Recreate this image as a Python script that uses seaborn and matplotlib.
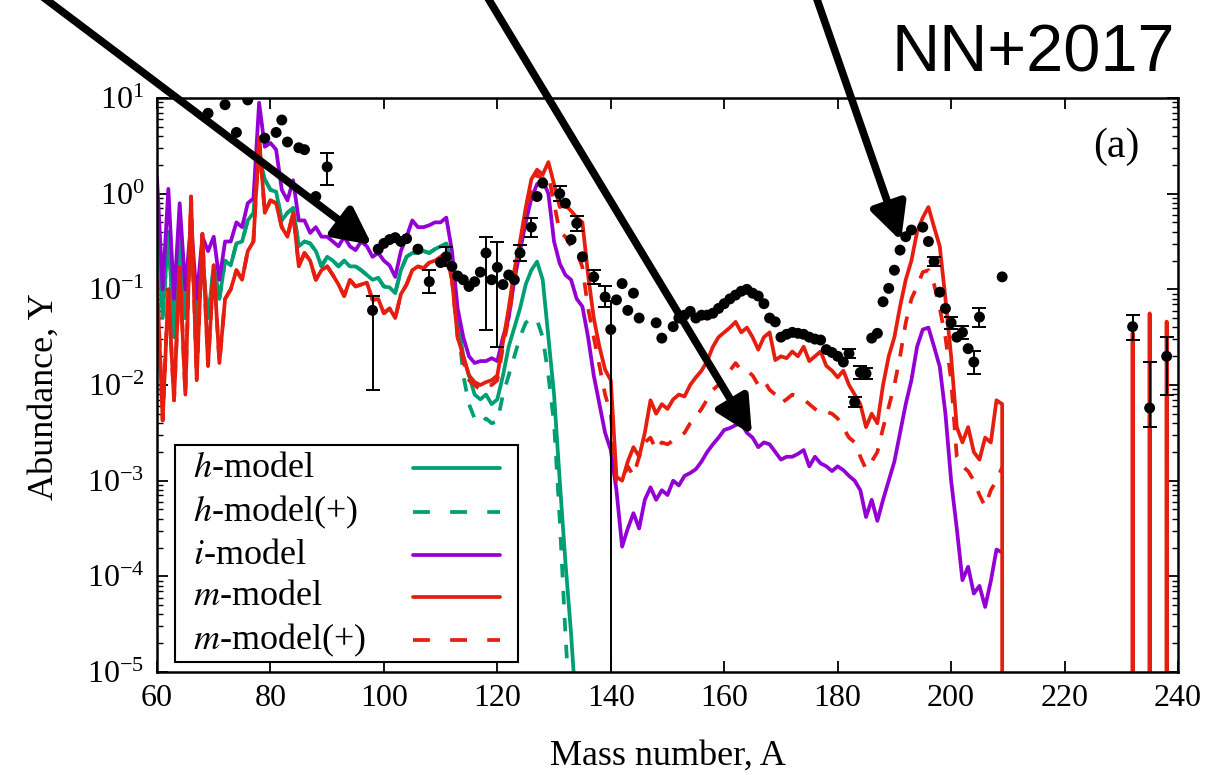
import numpy as np
import pandas as pd
import matplotlib
matplotlib.use("Agg")
import matplotlib.pyplot as plt
import seaborn as sns
from matplotlib.patches import Rectangle, FancyArrowPatch
from matplotlib.lines import Line2D
from matplotlib.ticker import FixedLocator, NullFormatter, LogFormatterSciNotation

# ---------------- data (log10 of abundance Y) ----------------
h_A = np.arange(60, 135)
h_log = [
    -0.2, -1.3, -0.4, -1.5, -0.4, -1.3, -0.5, -1.4, -0.7, -1.3,
    -0.75, -1.1, -0.7, -0.75, -0.52, -0.5, -0.28, -0.2, 0.4, 0.15,
    0.04, 0.02, -0.28, -0.2, -0.15, -0.55, -0.5, -0.52, -0.6, -0.76,
    -0.66, -0.7, -0.76, -0.7, -0.76, -0.76, -0.8, -0.85, -0.9, -0.88,
    -0.97, -0.98, -1.04, -0.8, -0.66, -0.62, -0.62, -0.6, -0.62, -0.58,
    -0.55, -0.52, -0.8, -1.3, -1.7, -1.9, -2.1, -2.15, -2.1, -2.2,
    -2.15, -1.9, -1.6, -1.4, -1.2, -0.95, -0.8, -0.71, -0.9, -1.5,
    -2.1, -3.0, -3.85, -4.6, -5.5]

h_plus_A = np.arange(60, 134)
h_plus_log = [
    -0.2, -1.3, -0.4, -1.5, -0.4, -1.3, -0.5, -1.4, -0.7, -1.3,
    -0.75, -1.1, -0.7, -0.75, -0.52, -0.5, -0.28, -0.2, 0.4, 0.15,
    0.04, 0.02, -0.28, -0.2, -0.15, -0.55, -0.5, -0.52, -0.6, -0.76,
    -0.66, -0.7, -0.76, -0.7, -0.76, -0.76, -0.8, -0.85, -0.9, -0.88,
    -0.97, -0.98, -1.04, -0.8, -0.66, -0.62, -0.62, -0.6, -0.62, -0.58,
    -0.55, -0.52, -0.8, -1.3, -1.9, -2.2, -2.35, -2.4, -2.35, -2.4,
    -2.38, -2.1, -1.9, -1.7, -1.5, -1.35, -1.3, -1.32, -1.5, -1.9,
    -2.4, -3.4, -4.6, -5.6]

i_A = np.arange(60, 210)
i_log = [
    0.17, -1.0, 0.05, -1.1, -0.1, -1.0, -0.3, -1.1, -0.45, -0.6,
    -0.45, -0.9, -0.5, -0.5, -0.3, -0.35, -0.1, -0.05, 0.95, 0.49,
    0.53, 0.46, 0.04, -0.07, 0.14, -0.28, -0.28, -0.41, -0.35, -0.45,
    -0.45, -0.5, -0.55, -0.45, -0.55, -0.59, -0.5, -0.55, -0.66, -0.62,
    -0.7, -0.75, -0.87, -0.6, -0.45, -0.28, -0.35, -0.35, -0.33, -0.3,
    -0.3, -0.25, -0.6, -1.2, -1.5, -1.7, -1.77, -1.75, -1.75, -1.72,
    -1.75, -1.5, -1.3, -0.9, -0.6, -0.3, -0.05, 0.1, 0.14, 0.0,
    -0.5, -0.73, -0.85, -0.9, -1.1, -1.18, -1.5, -1.9, -2.2, -2.5,
    -2.68, -3.1, -3.69, -3.5, -3.34, -3.5, -3.2, -3.07, -3.2, -3.1,
    -3.15, -3.0, -3.05, -2.95, -2.92, -2.88, -2.8, -2.7, -2.62, -2.55,
    -2.47, -2.45, -2.42, -2.4, -2.5, -2.55, -2.65, -2.6, -2.62, -2.7,
    -2.78, -2.75, -2.75, -2.72, -2.68, -2.85, -2.75, -2.82, -2.85, -2.9,
    -2.85, -2.89, -2.95, -3.0, -3.1, -3.38, -3.2, -3.42, -3.2, -3.0,
    -2.8, -2.5, -2.2, -1.95, -1.6, -1.42, -1.4, -1.6, -1.81, -2.3,
    -3.0, -3.5, -4.04, -3.9, -4.18, -4.1, -4.32, -4.05, -3.72, -3.75]

m_A = np.arange(60, 210)
m_log = [
    -0.9, -2.37, -1.0, -2.16, -0.77, -2.1, -0.03, -1.95, -0.42, -1.8,
    -0.75, -1.77, -1.1, -1.0, -0.8, -0.9, -0.6, -0.5, 0.59, -0.2,
    -0.07, -0.1, -0.35, -0.45, -0.2, -0.76, -0.62, -0.7, -0.9, -0.8,
    -0.76, -0.85, -0.95, -1.07, -0.9, -0.97, -0.95, -0.93, -1.11, -1.1,
    -1.25, -1.2, -1.3, -1.05, -0.95, -0.8, -0.76, -0.78, -0.72, -0.7,
    -0.66, -0.62, -0.9, -1.5, -1.7, -1.9, -1.97, -2.0, -1.97, -1.95,
    -1.9, -1.55, -1.2, -0.8, -0.5, -0.15, 0.15, 0.25, 0.2, 0.33,
    0.1, -0.14, -0.12, -0.18, -0.25, -0.3, -0.85, -1.3, -1.6, -1.84,
    -1.95, -2.96, -3.0, -2.8, -2.65, -2.75, -2.5, -2.16, -2.3, -2.2,
    -2.25, -2.15, -2.1, -2.12, -2.0, -1.92, -1.85, -1.75, -1.6, -1.5,
    -1.45, -1.4, -1.34, -1.45, -1.4, -1.5, -1.63, -1.5, -1.45, -1.74,
    -1.7, -1.72, -1.65, -1.7, -1.6, -1.75, -1.7, -1.65, -1.8, -1.85,
    -1.92, -1.85, -2.0, -2.1, -2.2, -2.44, -2.3, -2.4, -2.0, -1.7,
    -1.5, -1.18, -0.9, -0.7, -0.4, -0.25, -0.14, -0.35, -0.55, -1.1,
    -1.7, -2.44, -2.6, -2.44, -2.7, -2.78, -2.55, -2.6, -2.16, -2.2]
# m-model beyond A=209 (abundance values; zero = no yield): Th/U spikes
m_tail_A = [210, 231, 232, 233, 234, 235, 236, 237, 238, 239]
m_tail_Y = [0.0, 0.0, 0.035, 0.0, 0.0, 0.056, 0.0, 0.0, 0.046, 0.0]

m_plus_A = np.arange(60, 210)
m_plus_log = [
    -0.9, -2.37, -1.0, -2.16, -0.77, -2.1, -0.03, -1.95, -0.42, -1.8,
    -0.75, -1.77, -1.1, -1.0, -0.8, -0.9, -0.6, -0.5, 0.59, -0.2,
    -0.07, -0.1, -0.35, -0.45, -0.2, -0.76, -0.62, -0.7, -0.9, -0.8,
    -0.76, -0.85, -0.95, -1.07, -0.9, -0.97, -0.95, -0.93, -1.11, -1.1,
    -1.25, -1.2, -1.3, -1.05, -0.95, -0.8, -0.76, -0.78, -0.72, -0.7,
    -0.66, -0.62, -0.9, -1.5, -1.75, -1.95, -2.0, -2.05, -2.0, -2.0,
    -1.95, -1.6, -1.3, -0.9, -0.55, -0.2, 0.05, 0.2, 0.15, 0.2,
    -0.1, -0.4, -0.45, -0.55, -0.6, -0.77, -1.2, -1.5, -1.8, -2.1,
    -2.3, -3.0, -3.0, -2.85, -2.95, -2.75, -2.6, -2.55, -2.68, -2.6,
    -2.62, -2.58, -2.54, -2.5, -2.4, -2.33, -2.25, -2.15, -2.05, -2.0,
    -1.9, -1.85, -1.77, -1.85, -1.85, -1.9, -2.0, -1.95, -2.05, -2.1,
    -2.19, -2.15, -2.1, -2.12, -2.15, -2.2, -2.25, -2.3, -2.28, -2.3,
    -2.35, -2.45, -2.55, -2.6, -2.75, -2.88, -2.8, -2.7, -2.45, -2.23,
    -2.0, -1.7, -1.35, -1.1, -0.97, -0.82, -0.8, -0.95, -1.2, -1.5,
    -1.95, -2.75, -2.85, -2.9, -3.0, -3.15, -3.27, -3.1, -3.0, -2.86]

# solar r-process abundances (black points)
sol_A = [69, 72, 74, 76, 79, 81, 82, 83, 85, 86, 88, 90,
         98, 99, 100, 101, 102, 103, 104, 106, 108, 110, 111, 112, 113, 114, 115,
         116, 117, 118, 119, 120, 121, 122, 123, 124, 126, 127, 128,
         131, 132, 133, 134, 135, 137, 139, 140, 141, 142, 143, 144, 145, 148, 149, 151,
         152, 153, 154, 155, 156, 157, 158, 159, 160, 161, 162, 163, 164, 165, 166, 167,
         168, 169, 170, 171, 172, 173, 174, 175, 176, 177, 178, 179, 180, 181, 182, 183,
         184, 185, 186, 187, 188, 189, 190, 191, 192, 193,
         195, 196, 197, 198, 199, 200, 201, 202, 203, 204, 205, 209, 232, 235, 238]
sol_log = [0.84, 0.93, 0.64, 0.98, 0.58, 0.64, 0.77, 0.54, 0.48, 0.46, -0.03, 0.28,
           -1.22, -0.58, -0.52, -0.48, -0.46, -0.5, -0.47, -0.58, -0.92, -0.72, -0.66, -0.76, -0.86, -0.9, -0.97,
           -0.92, -0.82, -0.62, -0.9, -0.77, -0.95, -0.85, -0.9, -0.62, -0.35, -0.03, 0.11,
           0.0, -0.1, -0.48, -0.31, -0.66, -0.87, -1.08, -1.42, -1.11, -0.94, -1.22, -1.04, -1.3, -1.35, -1.51, -1.39,
           -1.3, -1.27, -1.23, -1.3, -1.27, -1.27, -1.25, -1.2, -1.15, -1.1, -1.06, -1.02, -1.0, -1.04, -1.07, -1.15,
           -1.3, -1.34, -1.5, -1.47, -1.45, -1.46, -1.47, -1.5, -1.52, -1.53, -1.63, -1.66, -1.7, -1.76, -1.67, -2.18,
           -1.87, -1.88, -1.51, -1.46, -1.13, -0.99, -0.8, -0.59, -0.45, -0.38,
           -0.35, -0.5, -0.71, -1.03, -1.2, -1.35, -1.5, -1.45, -1.62, -1.76, -1.29, -0.87, -1.39, -2.24, -1.7]
# error bars (in dex) for the points that show them; 99 = down to zero
err_A = [90, 98, 108, 111, 118, 120, 124, 126, 131, 134, 137, 139, 140,
         182, 183, 184, 185, 197, 200, 202, 204, 205, 232, 235, 238]
err_lo = [0.19, 0.83, 0.12, 0.10, 0.80, 0.83, 0.08, 0.10, 0.08, 0.08, 0.07, 0.10, 99,
          0.05, 0.05, 0.07, 0.06, 0.05, 0.06, 0.07, 0.12, 0.10, 0.14, 0.20, 0.40]
err_hi = [0.15, 0.15, 0.12, 0.10, 0.17, 0.27, 0.08, 0.10, 0.08, 0.08, 0.07, 0.12, 0.30,
          0.05, 0.05, 0.07, 0.06, 0.05, 0.06, 0.07, 0.12, 0.10, 0.12, 0.48, 0.20]

legend_labels = ["$h$-model", "$h$-model(+)", "$i$-model", "$m$-model", "$m$-model(+)"]
x_ticks = [60, 80, 100, 120, 140, 160, 180, 200, 220, 240]
y_ticks = [1e-5, 1e-4, 1e-3, 1e-2, 1e-1, 1e0, 1e1]

# ---------------- style ----------------
sns.set_style("ticks")
plt.rcParams["font.family"] = ["Liberation Serif", "DejaVu Serif"]
plt.rcParams["mathtext.fontset"] = "stix"
for key in ["text.color", "axes.labelcolor", "xtick.color", "ytick.color", "axes.edgecolor"]:
    plt.rcParams[key] = "black"

GREEN, PURPLE, RED = "#009e73", "#9400d3", "#e51e10"
LW = 2.7
DASH = (0, (3.6, 3.6))
LEG_DASH = (0, (4.5, 5.4))

W, H = 1231, 775
fig = plt.figure(figsize=(W / 100, H / 100), dpi=100)
ax = fig.add_axes([157 / W, (H - 672) / H, (1178 - 157) / W, (672 - 98) / H])
ax.set_yscale("log")
ax.set_xlim(60, 240)
ax.set_ylim(1e-5, 10)


def frame(A, logY):
    return pd.DataFrame({"A": np.asarray(A, float), "Y": 10.0 ** np.asarray(logY, float)})


h_df = frame(h_A, h_log)
hp_df = frame(h_plus_A, h_plus_log)
i_df = frame(i_A, i_log)
m_df = pd.concat([frame(m_A, m_log),
                  pd.DataFrame({"A": np.asarray(m_tail_A, float), "Y": np.asarray(m_tail_Y, float)})],
                 ignore_index=True)
mp_df = frame(m_plus_A, m_plus_log)

sns.lineplot(data=h_df, x="A", y="Y", ax=ax, color=GREEN, lw=LW, estimator=None, sort=False, zorder=2.0)
sns.lineplot(data=hp_df, x="A", y="Y", ax=ax, color=GREEN, lw=LW, linestyle=DASH, estimator=None, sort=False, zorder=2.1)
sns.lineplot(data=i_df, x="A", y="Y", ax=ax, color=PURPLE, lw=LW, estimator=None, sort=False, zorder=2.2)
sns.lineplot(data=mp_df, x="A", y="Y", ax=ax, color=RED, lw=LW, linestyle=DASH, estimator=None, sort=False, zorder=2.3)
sns.lineplot(data=m_df, x="A", y="Y", ax=ax, color=RED, lw=LW, estimator=None, sort=False, zorder=2.4)

# solar points
sol_df = pd.DataFrame({"A": sol_A, "Y": 10.0 ** np.asarray(sol_log)})
lookup = dict(zip(sol_A, sol_log))
e_log = np.array([lookup[a] for a in err_A])
e_y = 10.0 ** e_log
e_low = e_y - 10.0 ** (e_log - np.asarray(err_lo))
e_high = 10.0 ** (e_log + np.asarray(err_hi)) - e_y
ax.errorbar(err_A, e_y, yerr=[e_low, e_high], fmt="none", ecolor="black",
            elinewidth=1.4, capsize=4.8, capthick=1.4, zorder=3)
sns.scatterplot(data=sol_df, x="A", y="Y", ax=ax, color="black", s=62, edgecolor="none",
                zorder=4, legend=False)

ax.set_xlim(60, 240)
ax.set_ylim(1e-5, 10)

# axes styling
minor_y = [m * d for d in [1e-5, 1e-4, 1e-3, 1e-2, 1e-1, 1e0] for m in range(2, 10)]
ax.xaxis.set_major_locator(FixedLocator(x_ticks))
ax.yaxis.set_major_locator(FixedLocator(y_ticks))
ax.yaxis.set_major_formatter(LogFormatterSciNotation())
ax.yaxis.set_minor_locator(FixedLocator(minor_y))
ax.yaxis.set_minor_formatter(NullFormatter())
ax.tick_params(axis="both", which="major", direction="in", length=8, width=1.3,
               top=True, right=True, labelsize=23, pad=9, colors="black")
ax.tick_params(axis="y", which="minor", direction="in", length=4, width=1.0, right=True)
for s in ax.spines.values():
    s.set_linewidth(1.8)
    s.set_color("black")

ax.set_xlabel("Mass number, A", fontsize=26, va="baseline")
ax.set_ylabel("Abundance, Y", fontsize=26)
ax.xaxis.set_label_coords(0.5, (672 - 765) / 574)
ax.yaxis.set_label_coords(-0.094, 0.48)

ax.text(0.94, 0.915, "(a)", transform=ax.transAxes, fontsize=30, ha="center", va="center")

# legend (text left, line sample right)
ax.add_patch(Rectangle((0.0176, 0.0174), 0.336, 0.378, transform=ax.transAxes,
                       facecolor="white", edgecolor="black", lw=1.5, zorder=5))
row_y = [0.3554, 0.2787, 0.2038, 0.1307, 0.0557]
row_style = [(GREEN, "-"), (GREEN, LEG_DASH), (PURPLE, "-"), (RED, "-"), (RED, LEG_DASH)]
for lab, yy, (col, ls) in zip(legend_labels, row_y, row_style):
    ax.text(0.0353, yy, lab, transform=ax.transAxes, fontsize=26, ha="left", va="center", zorder=6)
    ax.add_line(Line2D([0.2507, 0.3359], [yy, yy], transform=ax.transAxes, color=col,
                       lw=LW, linestyle=ls, zorder=6))

# annotation arrows (figure pixel positions)
arrows = [((27, 790), (372, 530)), ((480, 790), (752, 340)), ((812, 790), (901, 534))]
for (x0, y0), (x1, y1) in arrows:
    fa = FancyArrowPatch((x0 / W, y0 / H), (x1 / W, y1 / H), transform=fig.transFigure,
                         arrowstyle="-|>,head_length=1.1,head_width=0.55", mutation_scale=20,
                         lw=5.5, color="black", shrinkA=0, shrinkB=0, zorder=10)
    fig.add_artist(fa)

fig.text(1175 / W, (H - 72) / H, "NN+2017", ha="right", va="baseline", fontsize=48,
         color="black", family=["Liberation Sans", "DejaVu Sans"])

fig.savefig("out.png", dpi=100)
